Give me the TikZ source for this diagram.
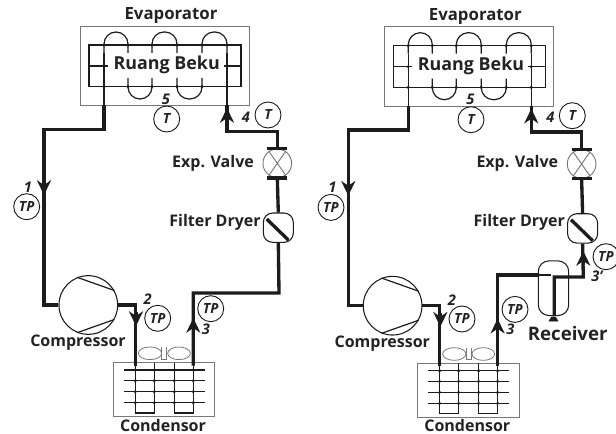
\documentclass[tikz,border=0pt]{standalone}
\usepackage{fontspec}
\setmainfont{Open Sans}
\usetikzlibrary{arrows.meta,shapes.geometric}
\definecolor{pipeink}{RGB}{28,28,28}
\definecolor{frameink}{RGB}{120,120,120}
\definecolor{textink}{RGB}{35,35,35}
\tikzset{
  unitlabel/.style={font=\bfseries\fontsize{12}{12}\selectfont,text=textink,inner sep=0pt},
  tagnum/.style={font=\bfseries\itshape\fontsize{11}{11}\selectfont,text=textink,inner sep=0pt},
  gauge/.style={circle,draw=pipeink,line width=0.7pt,minimum size=19.5pt,inner sep=0pt,font=\bfseries\itshape\fontsize{10.5}{10.5}\selectfont,text=textink},
  frame/.style={draw=frameink,line width=0.75pt,inner sep=0pt},
  coil/.style={draw=pipeink,line width=0.9pt},
  pipe/.style={draw=pipeink,line width=2.5pt},
  flow/.style={draw=pipeink,line width=2.5pt,-{Stealth[length=11pt,width=10.5pt,inset=3.5pt]}},
  joint/.style={circle,fill=pipeink,inner sep=0pt,minimum size=2.6pt}
}
\begin{document}
\begin{tikzpicture}[x=0.75pt,y=-0.75pt]
\useasboundingbox (0,0) rectangle (616,434);
\foreach \pre/\dx/\dy in {L/0/0,R/304.3/0.7}{
\begin{scope}[shift={(\dx,\dy)},name prefix=\pre-]
  % evaporator
  \node[frame,minimum width=127pt,minimum height=59.5pt] (evap) at (165,65.7) {};
  \node[unitlabel,font=\bfseries\fontsize{12.6}{13}\selectfont] (evaplab) at (171,16) {Evaporator};
  \draw[coil] (89,45) rectangle (241,86.7);
  \draw[coil] (89,66) -- (108,66) (224,66) -- (241,66);
  \foreach \a/\b in {104/128,152/177,202/227} \draw[coil,rounded corners=9pt] (\a,53) -- (\a,32) -- (\b,32) -- (\b,53);
  \foreach \a/\b in {128/152,177/202} \draw[coil,rounded corners=9pt] (\a,78) -- (\a,99) -- (\b,99) -- (\b,78);
  \draw[coil] (104,53) -- (104,105.4) (227,53) -- (227,105.4);
  \foreach \a in {104,128,152,177,202,227} \node[joint] at (\a,45) {};
  \foreach \a in {104,128,152,177,202,227} \node[joint] at (\a,86.7) {};
  \node[joint] at (104,66) {}; \node[joint] at (227,66) {};
  \node[font=\bfseries\fontsize{13.4}{14}\selectfont,text=textink,inner sep=0pt] (room) at (166.7,65) {Ruang Beku};
  \coordinate (evapout) at (104,105.4); \coordinate (evapin) at (227,105.4);
  % compressor and condenser
  \node[circle,draw=pipeink,line width=0.8pt,minimum size=44pt,inner sep=0pt] (comp) at (88.3,305) {};
  \draw[pipeink,line width=0.9pt] (comp.112) -- (comp.29) (comp.-112) -- (comp.-29);
  \node[unitlabel] (complab) at (78,343) {Compressor};
  \node[frame,minimum width=76pt,minimum height=40.5pt] (cond) at (164.3,389.7) {};
  \node[unitlabel] (condlab) at (163,425) {Condensor};
  \foreach \y in {370,380.7,391.7,402.7} \draw[coil] (124,\y) -- (204.7,\y);
  \foreach \a/\b in {135.3/154.3,174.3/193.3} \draw[coil] (\a,362.7) |- (\b,413) -- (\b,362.7);
  \foreach \y in {370,380.7,391.7,402.7} \foreach \a in {135.3,154.3,174.3,193.3} \node[joint] at (\a,\y) {};
  \node[ellipse,draw=frameink,line width=0.6pt,minimum width=17.5pt,minimum height=9.5pt,inner sep=0pt] (fanl) at (150,353.3) {};
  \node[ellipse,draw=frameink,line width=0.6pt,minimum width=17pt,minimum height=9.5pt,inner sep=0pt] (fanr) at (179,353.3) {};
  \draw[frameink,line width=0.6pt] (161.7,347) -- (161.7,359) -- (166.7,359) -- (166.7,347);
  \coordinate (condin) at (135.3,365.5); \coordinate (condout) at (193.3,365.5);
  % valve and filter
  \node[circle,draw=frameink,line width=0.7pt,minimum size=21.5pt,inner sep=0pt] (valve) at (277.3,163.3) {};
  \draw[frameink,line width=0.7pt] (valve.55) -- (valve.235) (valve.125) -- (valve.305);
  \draw[pipe] ([xshift=-7.5pt]valve.north) -- ([xshift=7.5pt]valve.north) ([xshift=-7.5pt]valve.south) -- ([xshift=7.5pt]valve.south);
  \node[unitlabel] (valvelab) at (213,163) {Exp. Valve};
  \node[draw=pipeink,line width=0.8pt,rounded corners=7pt,minimum width=22.5pt,minimum height=22pt,inner sep=0pt] (filter) at (278.3,227.7) {};
  \draw[pipe] ([xshift=-8.7pt,yshift=6.5pt]filter.center) -- ([xshift=7.5pt,yshift=-9.2pt]filter.center);
  \node[unitlabel] (filterlab) at (215,222) {Filter Dryer};
  % piping
  \draw[pipe] (evapout) -- +(0,24) -| (44,250) |- (comp.west);
  \draw[pipe] (comp.east) -| (condin);
  \draw[pipe] (evapin) -- +(0,26) -| (valve.north);
  \draw[pipe] (valve.south) -- (filter.north);
  \coordinate (a1) at (44,182); \draw[flow] (a1) -- +(0,13);
  \coordinate (a2) at (136,312); \draw[flow] (a2) -- +(0,14);
  \coordinate (a3) at (193.3,332); \draw[flow] (a3) -- +(0,-14);
  \coordinate (a4) at (227,122); \draw[flow] (a4) -- +(0,-14);
  % gauges
  \node[tagnum] (n1) at (28,187) {1}; \node[gauge] (g1) at (26.7,206.7) {TP};
  \node[tagnum] (n2) at (147.7,299) {2}; \node[gauge] (g2) at (157.7,318.3) {TP};
  \node[tagnum] (n3) at (206,329) {3}; \node[gauge] (g3) at (210.7,308.7) {TP};
  \node[tagnum] (n4) at (246,117) {4}; \node[gauge] (g4) at (268,115) {T};
  \node[tagnum] (n5) at (166,99) {5}; \node[gauge] (g5) at (166.7,119) {T};
\end{scope}}
\draw[pipe] (L-condout) |- (279,293) -- (L-filter.south);
\coordinate (tapin) at (539,275);
\node[draw=pipeink,line width=0.8pt,rounded corners=8pt,minimum width=22.8pt,minimum height=41pt,inner sep=0pt] (recv) at (553.5,288.2) {};
\draw[pipeink,fill=pipeink] (549,321) -- (558,321) -- (555.5,317) -- (551.5,317) -- cycle;
\node[font=\bfseries\fontsize{14}{14}\selectfont,text=textink,inner sep=0pt] (recvlab) at (567.7,333) {Receiver};
\draw[pipe] (R-condout) |- (tapin) -- (recv.west |- tapin);
\draw[coil] (tapin) -- (551,275);
\draw[pipe] (554.3,315) |- (583.3,277) -- (R-filter.south);
\coordinate (a6) at (583.3,265); \draw[flow] (a6) -- +(0,-14);
\node[tagnum] (n6) at (597,276.7) {3'};
\node[gauge] (g6) at (606,256.7) {TP};
\end{tikzpicture}
\end{document}
